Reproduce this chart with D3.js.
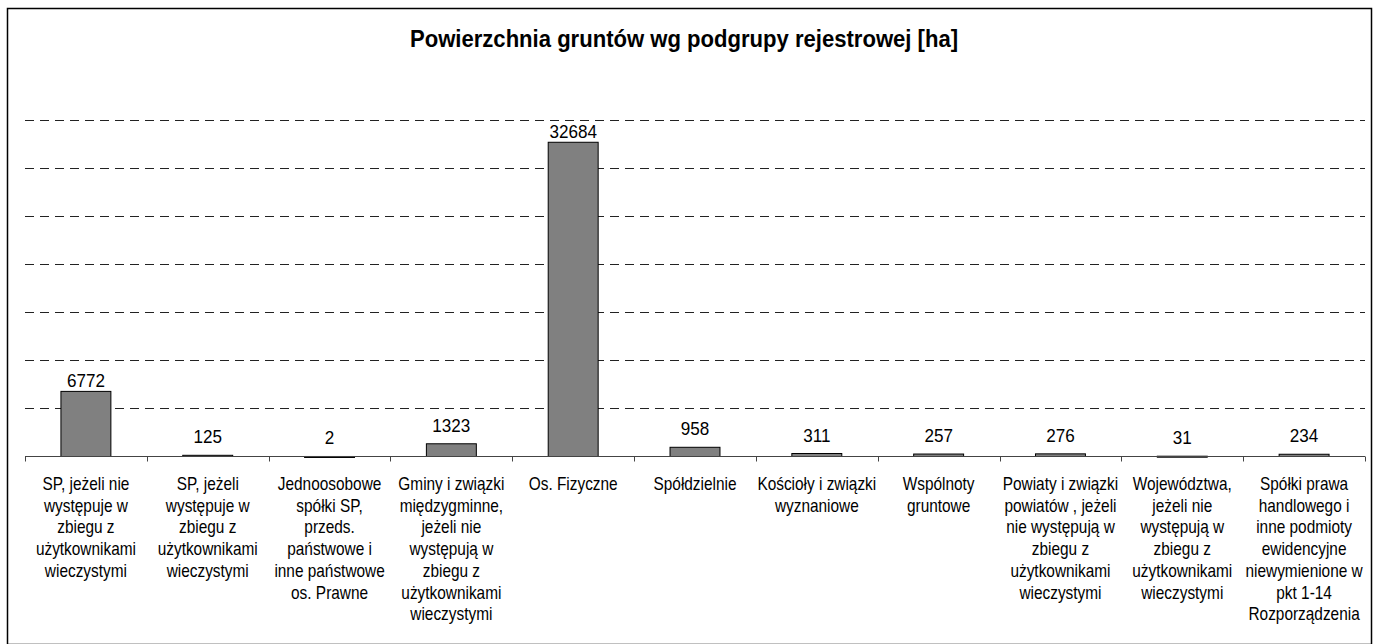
<!DOCTYPE html>
<html>
<head>
<meta charset="utf-8">
<script src="https://cdn.jsdelivr.net/npm/d3@7"></script>
<style>
  html, body { margin: 0; padding: 0; background: #fff; }
  svg { display: block; }
  text { font-family: "Liberation Sans", Arial, sans-serif; fill: #000; }
</style>
</head>
<body>
<svg id="chart" width="1373" height="644"></svg>
<script>
// ---- data ----
const title = "Powierzchnia gruntów wg podgrupy rejestrowej [ha]";
const categories = [
  ["SP, jeżeli nie", "występuje w", "zbiegu z", "użytkownikami", "wieczystymi"],
  ["SP, jeżeli", "występuje w", "zbiegu z", "użytkownikami", "wieczystymi"],
  ["Jednoosobowe", "spółki SP,", "przeds.", "państwowe i", "inne państwowe", "os. Prawne"],
  ["Gminy i związki", "międzygminne,", "jeżeli nie", "występują w", "zbiegu z", "użytkownikami", "wieczystymi"],
  ["Os. Fizyczne"],
  ["Spółdzielnie"],
  ["Kościoły i związki", "wyznaniowe"],
  ["Wspólnoty", "gruntowe"],
  ["Powiaty i związki", "powiatów , jeżeli", "nie występują w", "zbiegu z", "użytkownikami", "wieczystymi"],
  ["Województwa,", "jeżeli nie", "występują w", "zbiegu z", "użytkownikami", "wieczystymi"],
  ["Spółki prawa", "handlowego i", "inne podmioty", "ewidencyjne", "niewymienione w", "pkt 1-14", "Rozporządzenia"]
];
const values = [6772, 125, 2, 1323, 32684, 958, 311, 257, 276, 31, 234];
const gridTicks = [5000, 10000, 15000, 20000, 25000, 30000, 35000];
const yMax = 35000;

// ---- layout ----
const svg = d3.select("#chart");
const W = 1373, H = 644;
const plot = { left: 25, right: 1365, top: 120, bottom: 456.5 };

// outer border
svg.append("rect")
  .attr("x", 7.5).attr("y", 8.5)
  .attr("width", W - 9).attr("height", H - 8)
  .attr("fill", "none").attr("stroke", "#000").attr("stroke-width", 1.5);

// title
svg.append("text")
  .attr("transform", `translate(684,47) scale(0.96,1)`)
  .attr("text-anchor", "middle")
  .style("font-size", "23px").style("font-weight", "bold")
  .text(title);

const x = d3.scaleBand()
  .domain(d3.range(categories.length))
  .range([plot.left, plot.right])
  .paddingInner(0.59).paddingOuter(0.295);

const xEdges = d3.scaleLinear()
  .domain([0, categories.length])
  .range([plot.left, plot.right]);

const y = d3.scaleLinear().domain([0, yMax]).range([plot.bottom, plot.top]);

// gridlines
svg.append("g").selectAll("line")
  .data(gridTicks)
  .join("line")
  .attr("x1", plot.left).attr("x2", plot.right)
  .attr("y1", d => Math.round(y(d)) + 0.5).attr("y2", d => Math.round(y(d)) + 0.5)
  .attr("stroke", "#222").attr("stroke-width", 1)
  .attr("stroke-dasharray", "9,6");

// bars
svg.append("g").selectAll("rect")
  .data(values)
  .join("rect")
  .attr("x", (d, i) => x(i))
  .attr("width", x.bandwidth())
  .attr("y", d => y(d))
  .attr("height", d => Math.max(1, y(0) - y(d)))
  .attr("fill", "#808080")
  .attr("stroke", "#000").attr("stroke-width", 1);

// x axis line + ticks
const axisG = svg.append("g");
axisG.append("line")
  .attr("x1", plot.left).attr("x2", plot.right)
  .attr("y1", plot.bottom).attr("y2", plot.bottom)
  .attr("stroke", "#444").attr("stroke-width", 1.2);
axisG.selectAll("line.tick")
  .data(d3.range(categories.length + 1))
  .join("line")
  .attr("class", "tick")
  .attr("x1", d => Math.round(xEdges(d)) + 0.5).attr("x2", d => Math.round(xEdges(d)) + 0.5)
  .attr("y1", plot.bottom).attr("y2", plot.bottom + 5)
  .attr("stroke", "#444").attr("stroke-width", 1);

// value labels
svg.append("g").selectAll("text")
  .data(values)
  .join("text")
  .attr("transform", (d, i) => {
    const h = y(0) - y(d);
    const gap = h > 30 ? 4.5 : 12;
    return `translate(${x(i) + x.bandwidth() / 2},${y(d) - gap}) scale(0.95,1)`;
  })
  .attr("text-anchor", "middle")
  .style("font-size", "18px")
  .text(d => d);

// category labels
const catG = svg.append("g").selectAll("g")
  .data(categories)
  .join("g");
catG.each(function (lines, i) {
  const g = d3.select(this);
  g.selectAll("text")
    .data(lines)
    .join("text")
    .attr("transform", (t, j) => `translate(${x(i) + x.bandwidth() / 2},${490 + j * 21.7}) scale(0.88,1)`)
    .attr("text-anchor", "middle")
    .style("font-size", "17.5px")
    .text(t => t);
});
</script>
</body>
</html>
